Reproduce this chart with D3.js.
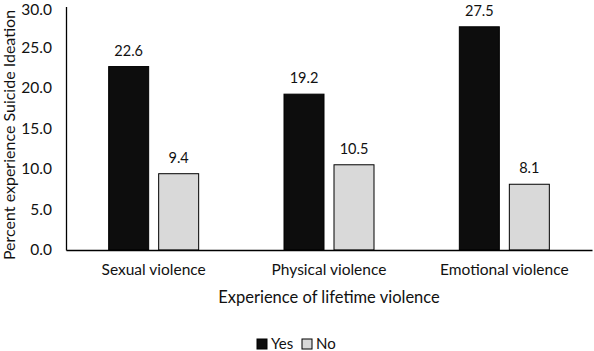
<!DOCTYPE html>
<html><head><meta charset="utf-8">
<script src="https://cdn.jsdelivr.net/npm/d3@7"></script>
<style>body{margin:0;background:#fff}svg{display:block}text{font-family:Lato,sans-serif;fill:#111}</style>
</head><body><svg id="c" width="594" height="351"></svg>
<script>
const categories = ["Sexual violence","Physical violence","Emotional violence"];
const seriesNames = ["Yes","No"];
const yesValues = [22.6,19.2,27.5];
const noValues = [9.4,10.5,8.1];
const yTicks = [0,5,10,15,20,25,30];

const svg = d3.select("#c");
const L=66,R=592,T=6.5,B=250;
const FONT = "Lato,sans-serif";
const x0 = d3.scaleBand().domain(categories).range([L,R]).paddingInner(0).paddingOuter(0);
const x1 = d3.scaleBand().domain(seriesNames).range([0,90]).paddingInner(0.2);
const y = d3.scaleLinear().domain([0,30]).range([B,T]);
const colors = {Yes:"#0d0d0d",No:"#d9d9d9"};
const data = categories.map((c,i)=>({cat:c, vals:[{s:"Yes",v:yesValues[i]},{s:"No",v:noValues[i]}]}));

const g = svg.selectAll("g.cat").data(data).join("g")
  .attr("transform",d=>`translate(${x0(d.cat)+x0.bandwidth()/2-45},0)`);
g.selectAll("rect").data(d=>d.vals).join("rect")
  .attr("x",d=>x1(d.s)).attr("width",x1.bandwidth())
  .attr("y",d=>y(d.v)).attr("height",d=>B-y(d.v))
  .attr("fill",d=>colors[d.s]).attr("stroke","#000").attr("stroke-width",1);
g.selectAll("text").data(d=>d.vals).join("text")
  .attr("x",d=>x1(d.s)+x1.bandwidth()/2).attr("y",d=>y(d.v)-11)
  .attr("text-anchor","middle").style("font-size","14.5px").text(d=>d.v.toFixed(1));

// y axis
const ya = svg.append("g").attr("transform",`translate(${L},0)`)
  .call(d3.axisLeft(y).tickValues(yTicks).tickFormat(d3.format(".1f")).tickSize(0).tickPadding(14));
ya.select(".domain").attr("stroke","#000").attr("stroke-width",1.3);
ya.selectAll("text").style("font-size","15.5px").style("font-family",FONT).attr("fill","#111");
ya.selectAll(".tick").filter(d=>d===30).select("text").attr("dy","0.5em");

// x axis
const xa = svg.append("g").attr("transform",`translate(0,${B})`)
  .call(d3.axisBottom(x0).tickSize(0).tickPadding(14));
xa.select(".domain").attr("stroke","#000").attr("stroke-width",1.3);
xa.selectAll("text").style("font-size","15.5px").style("font-family",FONT).attr("fill","#111");

svg.append("text").attr("x",(L+R)/2).attr("y",303).attr("text-anchor","middle")
  .style("font-size","16.5px").text("Experience of lifetime violence");
svg.append("text").attr("transform","translate(15,135) rotate(-90)").attr("text-anchor","middle")
  .style("font-size","16px").text("Percent experience Suicide Ideation");

// legend
const leg = svg.append("g").attr("transform","translate(257,339)");
const li = leg.selectAll("g").data(seriesNames).join("g").attr("transform",(d,i)=>`translate(${i*45},0)`);
li.append("rect").attr("width",10).attr("height",10).attr("fill",d=>colors[d]).attr("stroke","#000");
li.append("text").attr("x",14).attr("y",10).style("font-size","15px").text(d=>d);
</script></body></html>
